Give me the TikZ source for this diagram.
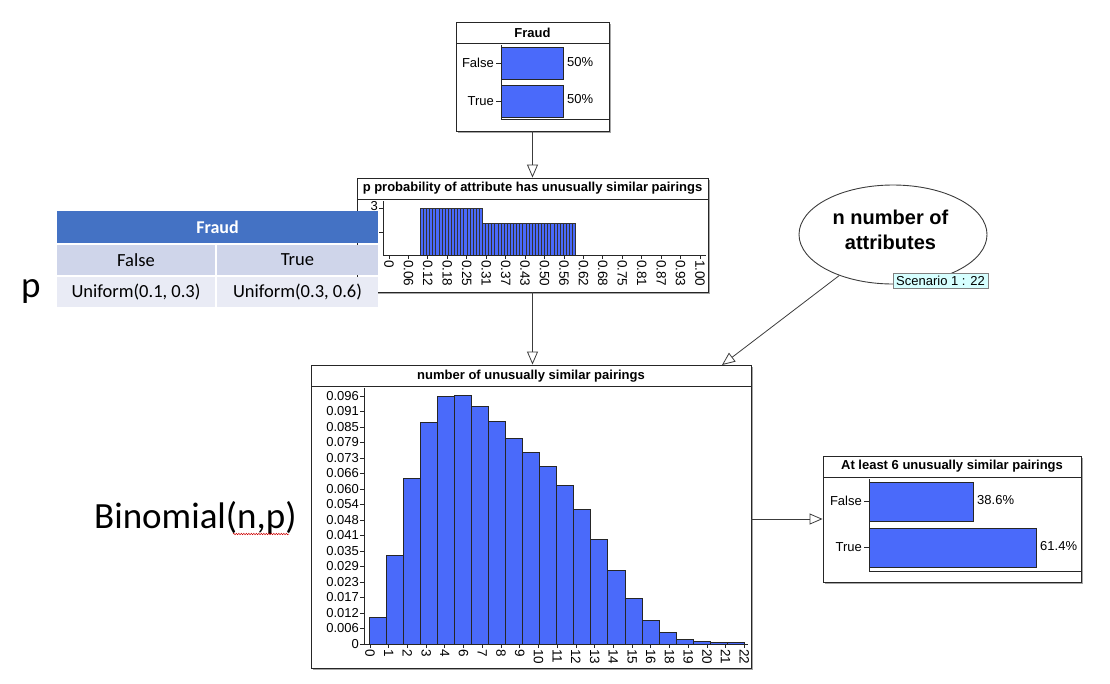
\documentclass[tikz,border=0pt]{standalone}
\usepackage{fontspec}
\setmainfont{Liberation Sans}
\newfontfamily\calibri{Carlito}
\usetikzlibrary{arrows.meta,shapes.geometric,shadows,decorations.pathmorphing}

\definecolor{barblue}{RGB}{74,106,250}
\definecolor{tabhead}{RGB}{68,114,196}
\definecolor{tabrowa}{RGB}{207,213,234}
\definecolor{tabrowb}{RGB}{233,235,245}
\definecolor{scenfill}{RGB}{214,255,255}
\definecolor{edgegray}{RGB}{60,60,60}

\tikzset{
  bnbox/.style={draw=black!85, line width=0.9pt, fill=white, inner sep=0pt,
    drop shadow={shadow xshift=1.5pt, shadow yshift=-1.5pt, fill=black!35, opacity=1}},
  rule/.style={draw=black!85, line width=0.8pt},
  bntitle/.style={font=\bfseries\fontsize{13}{15}\selectfont, inner sep=0pt},
  bnlabel/.style={font=\fontsize{13}{15}\selectfont, inner sep=0pt},
  ticklab/.style={font=\fontsize{13.5}{15}\selectfont, inner sep=0pt, rotate=-90, anchor=west},
  bar/.style={fill=barblue, draw=black!85, line width=0.8pt},
  stripe/.style={fill=barblue, draw=black!80, line width=0.5pt},
  link/.style={draw=edgegray, line width=0.8pt, -{Triangle[open, length=13pt, width=11pt]}},
  cell/.style={font=\calibri\fontsize{18.5}{20}\selectfont, inner sep=0pt, minimum height=30pt},
}

\begin{document}
\begin{tikzpicture}[x=1pt, y=-1pt]
  \useasboundingbox (0,0) rectangle (1110,683);

  % Fraud node
  \node[bnbox, minimum width=153pt, minimum height=109pt] (fraud) at (532.5,76.5) {};
  \draw[rule] (456,43) -- (609,43);
  \node[bntitle] (fraudtitle) at (532.5,33) {Fraud};
  \draw[rule] (501,45) -- (501,119) -- (609,119);
  \draw[bar] (501,47) rectangle (563,79);
  \draw[bar] (501,85) rectangle (563,117);
  \draw[rule] (496,63) -- (501,63);
  \draw[rule] (496,101) -- (501,101);
  \node[bnlabel, anchor=east] (fraudf) at (494,63) {False};
  \node[bnlabel, anchor=east] (fraudt) at (494,101) {True};
  \node[bnlabel, anchor=west] (fraudfp) at (567,62) {50\%};
  \node[bnlabel, anchor=west] (fraudtp) at (567,99) {50\%};

  % p node
  \node[bnbox, minimum width=351pt, minimum height=114pt] (pnode) at (532.5,235) {};
  \draw[rule] (357,199) -- (708,199);
  \node[bntitle] (ptitle) at (532.5,188.5) {p probability of attribute has unusually similar pairings};
  \foreach \i in {10,...,29}
    \draw[stripe] ({389+\i*3.11},208) rectangle ({389+(\i+1)*3.11},255);
  \foreach \i in {30,...,59}
    \draw[stripe] ({389+\i*3.11},223) rectangle ({389+(\i+1)*3.11},255);
  \draw[rule] (383,201) -- (383,255) -- (706,255);
  \draw[rule] (379,208) -- (383,208);
  \draw[rule] (379,232) -- (383,232);
  \node[bnlabel, anchor=east] (pthree) at (378,206) {3};
  \foreach \v [count=\k from 0] in {0,0.06,0.12,0.18,0.25,0.31,0.37,0.43,0.50,0.56,0.62,0.68,0.75,0.81,0.87,0.93,1.00} {
    \draw[rule] ({389+\k*19.44},255) -- ++(0,4);
    \node[ticklab] (px\k) at ({389+\k*19.44},260) {\v};
  }

  % table of p given Fraud
  \node[cell, fill=tabhead, text=white, minimum width=321pt, minimum height=32pt,
    font=\calibri\bfseries\fontsize{18}{20}\selectfont] (tabfraud) at (217.5,227) {Fraud};
  \node[cell, fill=tabrowa, minimum width=158pt] (tabfalse) at (136,260) {False};
  \node[cell, fill=tabrowa, minimum width=161pt] (tabtrue) at (297.5,260) {True};
  \node[cell, fill=tabrowb, minimum width=158pt] (tabunia) at (136,292) {Uniform(0.1, 0.3)};
  \node[cell, fill=tabrowb, minimum width=161pt] (tabunib) at (297.5,292) {Uniform(0.3, 0.6)};
  \node[font=\calibri\fontsize{37}{40}\selectfont, anchor=base west, inner sep=0pt] (plabel) at (21,297) {p};

  % n node
  \node[ellipse, draw=edgegray, line width=0.9pt, minimum width=188pt, minimum height=99pt,
    inner sep=0pt] (nattr) at (893,234.5) {};
  \node[align=center, inner sep=0pt, font=\bfseries\fontsize{20}{25}\selectfont] (nattrtext) at (890.5,230) {n number of\\attributes};
  \node[draw=gray, fill=scenfill, font=\fontsize{13}{15}\selectfont, minimum width=95pt,
    minimum height=15pt, inner sep=0pt] (scen) at (940.5,281) {Scenario 1 : 22};

  % histogram node
  \node[bnbox, minimum width=440pt, minimum height=303pt] (hist) at (531,516.5) {};
  \draw[rule] (311,386) -- (751,386);
  \node[bntitle] (histtitle) at (531,376) {number of unusually similar pairings};
  \foreach \t [count=\k from 0] in {617.7,555,478.7,422.7,396.7,395.3,406,421.7,438,452,466.7,485,509,539,570.7,598.3,620,632.7,639.3,641.3,642.3,642.7}
    \draw[bar] ({369.3+\k*17.04},\t) rectangle ({369.3+(\k+1)*17.04},644);
  \draw[rule] (364,388) -- (364,644) -- (748,644);
  \foreach \lab [count=\k from 0] in {0,0.006,0.012,0.017,0.023,0.029,0.035,0.041,0.048,0.054,0.060,0.066,0.073,0.079,0.085,0.091,0.096} {
    \draw[rule] (360,{644-\k*15.5}) -- (364,{644-\k*15.5});
    \node[bnlabel, anchor=east] (hy\k) at (359,{644-\k*15.5}) {\lab};
  }
  \foreach \v [count=\k from 0] in {0,1,2,3,4,6,7,8,9,10,11,12,13,14,15,16,18,19,20,21,22} {
    \draw[rule] ({370+\k*18.72},644) -- ++(0,4);
    \node[ticklab] (hx\k) at ({370+\k*18.72},649) {\v};
  }
  \node[font=\calibri\fontsize{37}{40}\selectfont, anchor=base west, inner sep=0pt] (binom) at (94,528) {Binomial(n,p)};
  \draw[red!80!black, line width=0.5pt, decorate, decoration={snake, amplitude=0.7pt, segment length=2.5pt}] (233,534) -- (289,534);

  % at least 6 node
  \node[bnbox, minimum width=258pt, minimum height=126pt] (atleast) at (952,519) {};
  \draw[rule] (823,477) -- (1081,477);
  \node[bntitle] (atleasttitle) at (952,466.5) {At least 6 unusually similar pairings};
  \draw[rule] (869,479) -- (869,571) -- (1081,571);
  \draw[bar] (869,482) rectangle (973,521);
  \draw[bar] (869,528) rectangle (1036,567);
  \draw[rule] (864,501) -- (869,501);
  \draw[rule] (864,547) -- (869,547);
  \node[bnlabel, anchor=east] (alf) at (862,501) {False};
  \node[bnlabel, anchor=east] (alt) at (862,547) {True};
  \node[bnlabel, anchor=west] (alfp) at (977,500) {38.6\%};
  \node[bnlabel, anchor=west] (altp) at (1040,546) {61.4\%};

  % connectors
  \coordinate (histin) at (722,365);
  \draw[link] (fraud.south) -- (pnode.north);
  \draw[link] (pnode.south) -- (pnode.south |- hist.north);
  \draw[link] (nattr) -- (histin);
  \draw[link] (hist.east |- atleast.west) -- (atleast.west);
\end{tikzpicture}
\end{document}
